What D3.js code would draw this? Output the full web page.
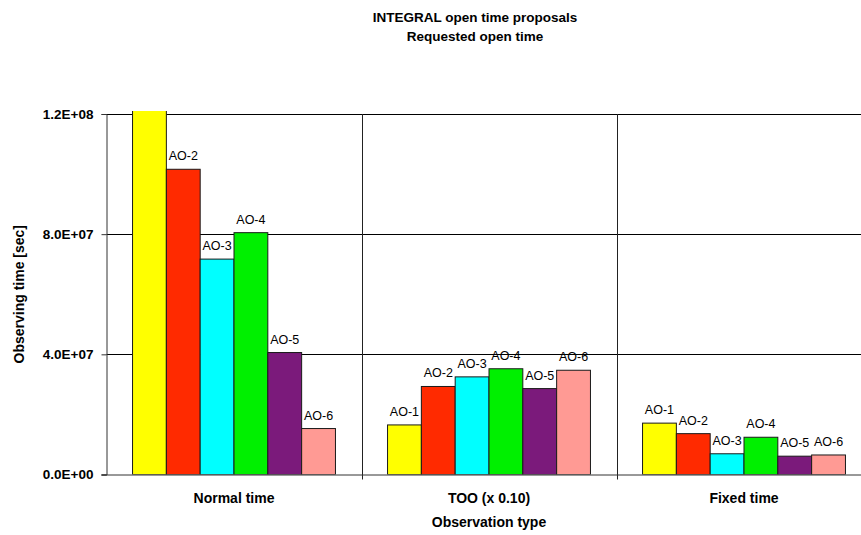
<!DOCTYPE html>
<html>
<head>
<meta charset="utf-8">
<script src="https://cdn.jsdelivr.net/npm/d3@7"></script>
<style>
  body { margin: 0; background: #fff; }
  svg { display: block; font-family: "Liberation Sans", Arial, sans-serif; }
</style>
</head>
<body>
<svg id="chart"></svg>
<script>
// data
const categories = ["Normal time", "TOO (x 0.10)", "Fixed time"]
const series = ["AO-1", "AO-2", "AO-3", "AO-4", "AO-5", "AO-6"]
const normalTime = [1.30e8, 1.016e8, 7.17e7, 8.05e7, 4.06e7, 1.53e7]
const tooTime = [1.65e7, 2.93e7, 3.25e7, 3.52e7, 2.86e7, 3.47e7]
const fixedTime = [1.71e7, 1.36e7, 6.9e6, 1.24e7, 6.1e6, 6.5e6]
const yTicks = [0, 4e7, 8e7, 1.2e8]
const colors = ["#ffff00", "#ff2a00", "#00ffff", "#00f000", "#7b1a7b", "#ff9a94"]

const values = [normalTime, tooTime, fixedTime]

var width = 861, height = 535,
    plotLeft = 106.5, plotTop = 114, plotBottom = 474.5,
    step = 255

var svg = d3.select("#chart")
    .attr("width", width)
    .attr("height", height)

var x0 = d3.scaleBand()
    .domain(categories)
    .range([plotLeft, plotLeft + step * categories.length])
    .padding(0)

var x1 = d3.scaleBand()
    .domain(series)
    .range([0, x0.bandwidth()])
    .paddingInner(0)
    .paddingOuter(0.77)

var y = d3.scaleLinear()
    .domain([0, 1.2e8])
    .range([plotBottom, plotTop])

function sciFormat(v) {
    let s = v.toExponential(1).toUpperCase()
    return s.replace(/E([+-])(\d)$/, "E$10$2")
}

svg.append("clipPath").attr("id", "plot")
    .append("rect")
    .attr("x", plotLeft).attr("y", plotTop - 3)
    .attr("width", width - plotLeft).attr("height", plotBottom - plotTop + 3)

// horizontal gridlines
svg.append("g")
    .selectAll("line")
    .data(yTicks.slice(1))
    .enter().append("line")
    .attr("x1", plotLeft).attr("x2", width)
    .attr("y1", d => Math.round(y(d)) + 0.5)
    .attr("y2", d => Math.round(y(d)) + 0.5)
    .style("stroke", "#000")

// category dividers
svg.append("g")
    .selectAll("line")
    .data(categories.slice(1))
    .enter().append("line")
    .attr("x1", d => Math.round(x0(d)) + 0.5)
    .attr("x2", d => Math.round(x0(d)) + 0.5)
    .attr("y1", plotTop).attr("y2", plotBottom + 5)
    .style("stroke", "#222")

// bars
var groups = svg.append("g")
    .attr("clip-path", "url(#plot)")
    .selectAll("g")
    .data(categories)
    .enter().append("g")
    .attr("transform", d => "translate(" + x0(d) + ",0)")

groups.selectAll("rect")
    .data((c, i) => series.map((s, j) => ({ s: s, v: values[i][j], c: colors[j] })))
    .enter().append("rect")
    .attr("x", d => x1(d.s))
    .attr("width", x1.bandwidth())
    .attr("y", d => y(d.v))
    .attr("height", d => y(0) - y(d.v))
    .style("fill", d => d.c)
    .style("stroke", "#1a1a1a")
    .style("stroke-width", "1px")

groups.selectAll("text")
    .data((c, i) => series.map((s, j) => ({ s: s, v: values[i][j] })).filter(d => d.v < 1.2e8))
    .enter().append("text")
    .attr("x", d => x1(d.s) + x1.bandwidth() / 2)
    .attr("y", d => y(d.v) - 9)
    .attr("text-anchor", "middle")
    .style("font-size", "12.5px")
    .style("fill", "#000")
    .text(d => d.s)

// y axis
var yAxis = svg.append("g")
    .attr("transform", "translate(" + plotLeft + ",0)")
    .call(d3.axisLeft(y).tickValues(yTicks).tickSize(5).tickPadding(8).tickFormat(sciFormat))
yAxis.select(".domain").style("stroke", "#333")
yAxis.selectAll(".tick line").style("stroke", "#333")
yAxis.selectAll("text")
    .style("font-size", "13.5px")
    .style("font-weight", "bold")
    .style("font-family", "Liberation Sans, Arial, sans-serif")
    .style("fill", "#000")

// x axis baseline and category labels
var xAxis = svg.append("g")
    .attr("transform", "translate(0," + plotBottom + ")")
    .call(d3.axisBottom(x0).tickSize(0).tickPadding(19))
xAxis.select(".domain").attr("d", "M" + (plotLeft - 5) + ",0.5H" + width).style("stroke", "#333")
xAxis.selectAll("text")
    .style("font-size", "14px")
    .style("font-weight", "bold")
    .style("font-family", "Liberation Sans, Arial, sans-serif")
    .style("fill", "#000")

// titles
svg.append("text")
    .attr("x", 475).attr("y", 22)
    .attr("text-anchor", "middle")
    .style("font-size", "13.5px").style("font-weight", "bold")
    .text("INTEGRAL open time proposals")
svg.append("text")
    .attr("x", 475).attr("y", 41)
    .attr("text-anchor", "middle")
    .style("font-size", "13.5px").style("font-weight", "bold")
    .text("Requested open time")

svg.append("text")
    .attr("x", 489).attr("y", 527)
    .attr("text-anchor", "middle")
    .style("font-size", "14px").style("font-weight", "bold")
    .text("Observation type")

svg.append("text")
    .attr("transform", "translate(23.5," + ((plotTop + plotBottom) / 2) + ") rotate(-90)")
    .attr("text-anchor", "middle")
    .style("font-size", "14px").style("font-weight", "bold")
    .text("Observing time [sec]")
</script>
</body>
</html>
